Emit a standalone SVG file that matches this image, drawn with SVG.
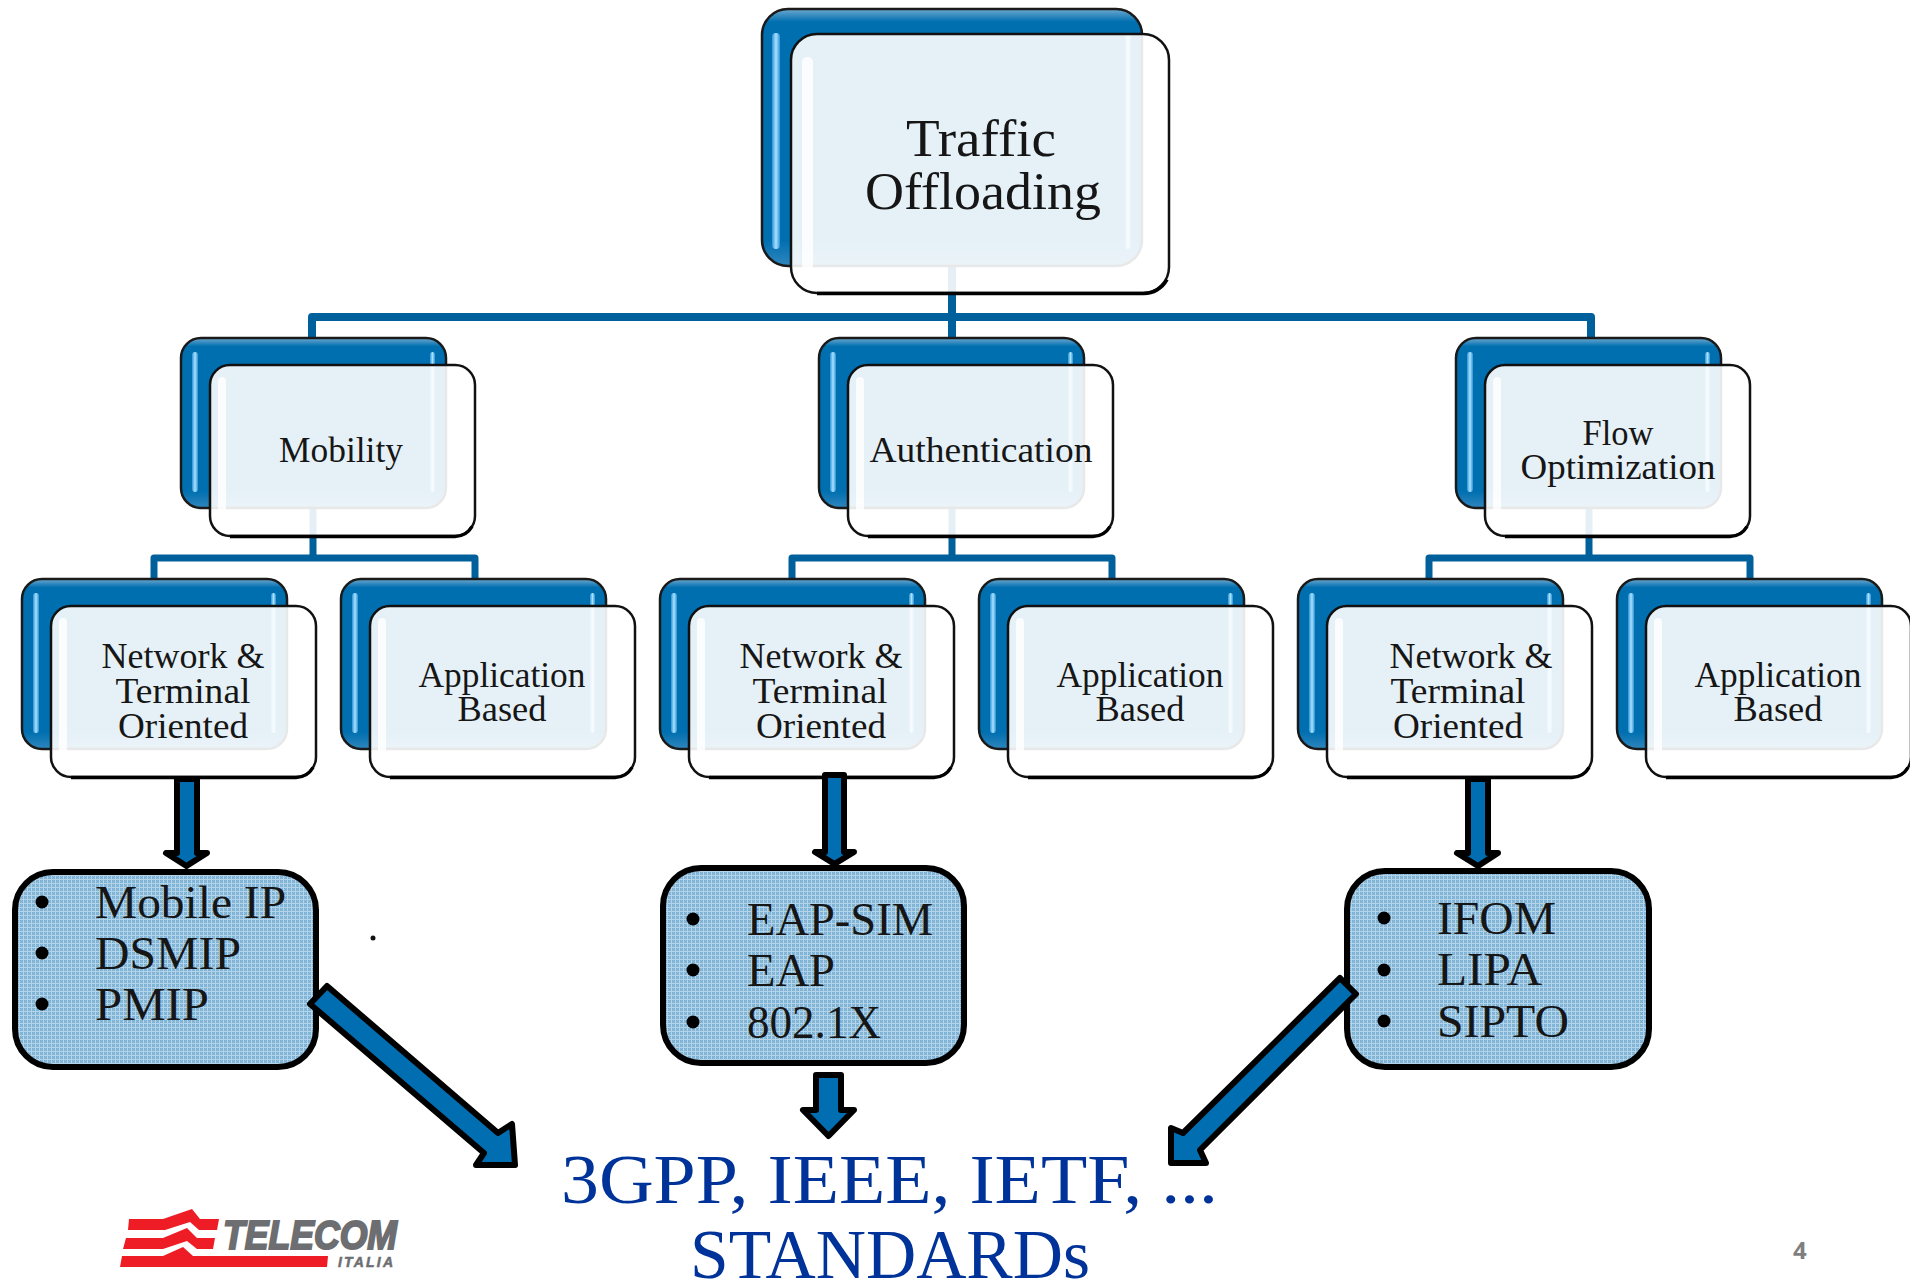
<svg xmlns="http://www.w3.org/2000/svg" xmlns:xlink="http://www.w3.org/1999/xlink" width="1910" height="1280" viewBox="0 0 1910 1280">
<style>
text{font-family:"Liberation Serif","Times New Roman",serif;fill:#161616}
.t1{font-size:53px;text-anchor:middle}
.t2{font-size:36px;text-anchor:middle}
.t3{font-size:46px}
.t4{font-size:70px;fill:#003399}
.line{fill:none;stroke:#00609c;stroke-linejoin:round}
.arrow{fill:#006eb0;stroke:#000;stroke-width:6;stroke-linejoin:round}
.back{fill:url(#backG);stroke:#1a1a1a;stroke-width:2.5}
.front{fill:#fff;fill-opacity:.9;stroke:#111;stroke-width:2.5}
.edge{fill:none;stroke:#000;stroke-width:3.5}
.box{fill:url(#dither);stroke:#000;stroke-width:6}
.hl{fill:url(#hlG)}
.hw{fill:#fff;opacity:.8}
</style>
<defs>
<linearGradient id="backG" x1="0" y1="0" x2="0" y2="1">
<stop offset="0" stop-color="#6fa9cf"/><stop offset=".05" stop-color="#006fb0"/><stop offset=".9" stop-color="#006fb0"/><stop offset="1" stop-color="#2f86bd"/>
</linearGradient>
<linearGradient id="hlG" x1="0" y1="0" x2="1" y2="0">
<stop offset="0" stop-color="#2f93d6"/><stop offset=".5" stop-color="#a9e2ff"/><stop offset="1" stop-color="#2f93d6"/>
</linearGradient>
<pattern id="dither" width="4" height="4" patternUnits="userSpaceOnUse">
<rect width="4" height="4" fill="#8dbbdb"/>
<path d="M0 0h1v1h-1zM2 0h1v1h-1zM1 1h1v1h-1zM0 2h1v1h-1zM2 2h1v1h-1z" fill="#79aed3"/>
<path d="M3 0h1v4h-1zM0 3h4v1h-4z" fill="#b4d4e9"/>
</pattern>
<g id="card">
<rect class="back" x="0" y="0" width="265" height="170" rx="20"/>
<rect class="hl" x="11" y="14" width="6" height="140" rx="3"/>
<rect class="hl" x="249" y="14" width="5" height="140" rx="2.500"/>
<rect class="front" x="29" y="27" width="265" height="171" rx="20"/>
<rect class="hw" x="37" y="39" width="8" height="148" rx="4"/>
<path class="edge" d="M49 198.500H274a20 20 0 0 0 17-10"/>
</g>
<g id="cardBig">
<rect class="back" x="0" y="0" width="380" height="257" rx="26"/>
<rect class="hl" x="10" y="24" width="8" height="216" rx="4"/>
<rect class="hl" x="363" y="24" width="6" height="216" rx="3"/>
<rect class="front" x="29" y="25" width="378" height="259" rx="26"/>
<rect class="hw" x="40" y="48" width="11" height="218" rx="5"/>
<path class="edge" d="M55 284.500H381a26 26 0 0 0 24-14"/>
</g>
</defs>
<rect width="1910" height="1280" fill="#fff"/>

<g id="connectors">
<path class="line" stroke-width="8" d="M312 339V317H1591V339M952 267V339"/>
<path class="line" stroke-width="7" d="M154 580V558H475V580M313 509V558"/>
<path class="line" stroke-width="7" d="M792 580V558H1112V580M952 509V558"/>
<path class="line" stroke-width="7" d="M1429 580V558H1750V580M1589 509V558"/>
</g>

<g id="node-traffic">
<use xlink:href="#cardBig" href="#cardBig" x="762" y="9"/>
<text class="t1" x="981" y="156" textLength="150" lengthAdjust="spacingAndGlyphs">Traffic</text>
<text class="t1" x="983" y="209" textLength="236" lengthAdjust="spacingAndGlyphs">Offloading</text>
</g>
<g id="node-mobility">
<use xlink:href="#card" href="#card" x="181" y="338"/>
<text class="t2" x="341" y="462" textLength="124" lengthAdjust="spacingAndGlyphs">Mobility</text>
</g>
<g id="node-authentication">
<use xlink:href="#card" href="#card" x="819" y="338"/>
<text class="t2" x="981" y="462" textLength="223" lengthAdjust="spacingAndGlyphs">Authentication</text>
</g>
<g id="node-flow">
<use xlink:href="#card" href="#card" x="1456" y="338"/>
<text class="t2" x="1618" y="445" textLength="71" lengthAdjust="spacingAndGlyphs">Flow</text>
<text class="t2" x="1618" y="479" textLength="195" lengthAdjust="spacingAndGlyphs">Optimization</text>
</g>
<g id="node-net1">
<use xlink:href="#card" href="#card" x="22" y="579"/>
<text class="t2" x="183" y="668" textLength="163" lengthAdjust="spacingAndGlyphs">Network &amp;</text>
<text class="t2" x="183" y="703" textLength="135" lengthAdjust="spacingAndGlyphs">Terminal</text>
<text class="t2" x="183" y="738" textLength="130" lengthAdjust="spacingAndGlyphs">Oriented</text>
</g>
<g id="node-app1">
<use xlink:href="#card" href="#card" x="341" y="579"/>
<text class="t2" x="502" y="687" textLength="167" lengthAdjust="spacingAndGlyphs">Application</text>
<text class="t2" x="502" y="721" textLength="89" lengthAdjust="spacingAndGlyphs">Based</text>
</g>
<g id="node-net2">
<use xlink:href="#card" href="#card" x="660" y="579"/>
<text class="t2" x="821" y="668" textLength="163" lengthAdjust="spacingAndGlyphs">Network &amp;</text>
<text class="t2" x="820" y="703" textLength="135" lengthAdjust="spacingAndGlyphs">Terminal</text>
<text class="t2" x="821" y="738" textLength="130" lengthAdjust="spacingAndGlyphs">Oriented</text>
</g>
<g id="node-app2">
<use xlink:href="#card" href="#card" x="979" y="579"/>
<text class="t2" x="1140" y="687" textLength="167" lengthAdjust="spacingAndGlyphs">Application</text>
<text class="t2" x="1140" y="721" textLength="89" lengthAdjust="spacingAndGlyphs">Based</text>
</g>
<g id="node-net3">
<use xlink:href="#card" href="#card" x="1298" y="579"/>
<text class="t2" x="1471" y="668" textLength="163" lengthAdjust="spacingAndGlyphs">Network &amp;</text>
<text class="t2" x="1458" y="703" textLength="135" lengthAdjust="spacingAndGlyphs">Terminal</text>
<text class="t2" x="1458" y="738" textLength="130" lengthAdjust="spacingAndGlyphs">Oriented</text>
</g>
<g id="node-app3">
<use xlink:href="#card" href="#card" x="1617" y="579"/>
<text class="t2" x="1778" y="687" textLength="167" lengthAdjust="spacingAndGlyphs">Application</text>
<text class="t2" x="1778" y="721" textLength="89" lengthAdjust="spacingAndGlyphs">Based</text>
</g>

<g id="box-mobile">
<rect class="box" x="15" y="872" width="301" height="195" rx="38"/>
<circle cx="42" cy="902" r="6.500"/><circle cx="42" cy="953" r="6.500"/><circle cx="42" cy="1004" r="6.500"/>
<text class="t3" x="95" y="918" textLength="191" lengthAdjust="spacingAndGlyphs">Mobile IP</text>
<text class="t3" x="95" y="969" textLength="146" lengthAdjust="spacingAndGlyphs">DSMIP</text>
<text class="t3" x="95" y="1020" textLength="114" lengthAdjust="spacingAndGlyphs">PMIP</text>
</g>
<g id="box-eap">
<rect class="box" x="663" y="868" width="301" height="195" rx="38"/>
<circle cx="693" cy="919" r="6.500"/><circle cx="693" cy="970" r="6.500"/><circle cx="693" cy="1022" r="6.500"/>
<text class="t3" x="747" y="935" textLength="186" lengthAdjust="spacingAndGlyphs">EAP-SIM</text>
<text class="t3" x="747" y="986" textLength="88" lengthAdjust="spacingAndGlyphs">EAP</text>
<text class="t3" x="747" y="1038" textLength="134" lengthAdjust="spacingAndGlyphs">802.1X</text>
</g>
<g id="box-ifom">
<rect class="box" x="1347" y="871" width="302" height="196" rx="38"/>
<circle cx="1384" cy="918" r="6.500"/><circle cx="1384" cy="970" r="6.500"/><circle cx="1384" cy="1021" r="6.500"/>
<text class="t3" x="1437" y="934" textLength="119" lengthAdjust="spacingAndGlyphs">IFOM</text>
<text class="t3" x="1437" y="985" textLength="105" lengthAdjust="spacingAndGlyphs">LIPA</text>
<text class="t3" x="1437" y="1037" textLength="132" lengthAdjust="spacingAndGlyphs">SIPTO</text>
</g>

<g id="arrows">
<polygon class="arrow" points="177,779 197,779 197,853 207,853 186.500,866 166,853 177,853"/>
<polygon class="arrow" points="825,775 844,775 844,852 854,852 834.500,864 815,852 825,852"/>
<polygon class="arrow" points="1468,779 1488,779 1488,853 1498,853 1478,866 1457,853 1468,853"/>
<polygon class="arrow" points="816,1075 841,1075 841,1110 854,1110 828.500,1136 803,1110 816,1110"/>
<polygon class="arrow" points="327,986 498,1133 512,1124 515,1165 476,1165 484,1153 310,1004"/>
<polygon class="arrow" points="1340,978 1183,1133 1171,1128 1171,1163 1206,1163 1200,1150 1356,994"/>
</g>

<text class="t4" x="561" y="1203" textLength="657" lengthAdjust="spacingAndGlyphs">3GPP, IEEE, IETF, ...</text>
<text class="t4" x="690" y="1278" textLength="400" lengthAdjust="spacingAndGlyphs">STANDARDs</text>
<circle cx="373" cy="938" r="2.500" fill="#111"/>

<g id="logo">
<g fill="#ee1c25">
<polygon points="129,1219 163,1219 192,1209 200,1219 219,1219 217,1230 199,1230 190,1222 165,1230 128,1230"/>
<polygon points="126,1238 163,1238 187,1228 197,1238 215,1238 213,1249 197,1249 187,1241 163,1249 123,1249"/>
<polygon points="122,1256 163,1256 183,1247 193,1256 328,1256 327,1267 120,1267"/>
</g>
<text x="223" y="1249" textLength="174" lengthAdjust="spacingAndGlyphs" style="font-family:'Liberation Sans',Arial,sans-serif;font-weight:700;font-style:italic;font-size:41px;fill:#6d6e71;stroke:#6d6e71;stroke-width:2">TELECOM</text>
<text x="338" y="1267" textLength="55" lengthAdjust="spacing" style="font-family:'Liberation Sans',Arial,sans-serif;font-weight:700;font-style:italic;font-size:14px;fill:#6d6e71;stroke:#6d6e71;stroke-width:.5">ITALIA</text>
</g>
<text x="1793" y="1259" style="font-family:'Open Sans','Liberation Sans',sans-serif;font-weight:700;font-size:24px;fill:#7f7f7f">4</text>
</svg>
